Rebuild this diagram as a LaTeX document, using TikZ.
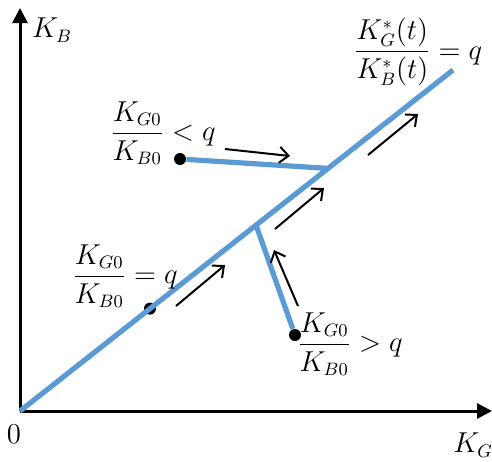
\documentclass[tikz,border=0pt]{standalone}
\usepackage{amsmath}
\usepackage{tikz}
\usetikzlibrary{arrows.meta,positioning,calc}

\begin{document}
\begin{tikzpicture}[
  x=0.5pt, y=-0.5pt,
  font=\fontsize{13.5}{16}\selectfont,
  axis/.style={-{Triangle[length=7.5pt, width=7.5pt]}, line width=1.5pt, draw=black},
  path/.style={line width=2.6pt, draw=pathblue},
  dot/.style={circle, fill=black, minimum size=6pt, inner sep=0},
  move/.style={-{Straight Barb[length=4.5pt, width=8pt]}, line width=1pt, draw=black},
  lbl/.style={inner sep=1pt},
]
\definecolor{pathblue}{RGB}{91,155,213}
\useasboundingbox (0,0) rectangle (492,461);

% axes
\coordinate (O) at (20,411);
\coordinate (ytip) at (20,8);
\coordinate (xtip) at (492,411);
\draw[axis] (O) -- (ytip);
\draw[axis] (O) -- (xtip);
\node[lbl] (kb) at (52,30) {$K_B$};
\node[lbl] (kg) at (473,445) {$K_G$};
\node[lbl] (zero) at (14,434) {$0$};

% balanced growth ray and the two off-ray paths
\coordinate (T) at (453,70);
\coordinate (J1) at (328,168.4);
\coordinate (J2) at (256,225.1);
\node[dot] (pLess) at (180,159) {};
\node[dot] (pEq) at (150,308.6) {};
\node[dot] (pMore) at (295,335) {};
\draw[path] (O) -- (T);
\draw[path] (pLess) -- (J1);
\draw[path] (pMore) -- (J2);

% labels
\node[lbl] (lblTop) at (418,52) {$\dfrac{K_G^{*}(t)}{K_B^{*}(t)}=q$};
\node[lbl] (lblLess) at (163,133) {$\dfrac{K_{G0}}{K_{B0}}<q$};
\node[lbl] (lblEq) at (125,276) {$\dfrac{K_{G0}}{K_{B0}}=q$};
\node[lbl] (lblMore) at (350,344) {$\dfrac{K_{G0}}{K_{B0}}>q$};

% direction of motion
\coordinate (m1s) at (225,149); \coordinate (m1e) at (290,156);
\coordinate (m2s) at (176,306); \coordinate (m2e) at (225,265);
\coordinate (m3s) at (275,229); \coordinate (m3e) at (324,188);
\coordinate (m4s) at (368,155); \coordinate (m4e) at (418,114);
\coordinate (m5s) at (298,306); \coordinate (m5e) at (274,250);
\draw[move] (m1s) -- (m1e);
\draw[move] (m2s) -- (m2e);
\draw[move] (m3s) -- (m3e);
\draw[move] (m4s) -- (m4e);
\draw[move] (m5s) -- (m5e);

\end{tikzpicture}
\end{document}
